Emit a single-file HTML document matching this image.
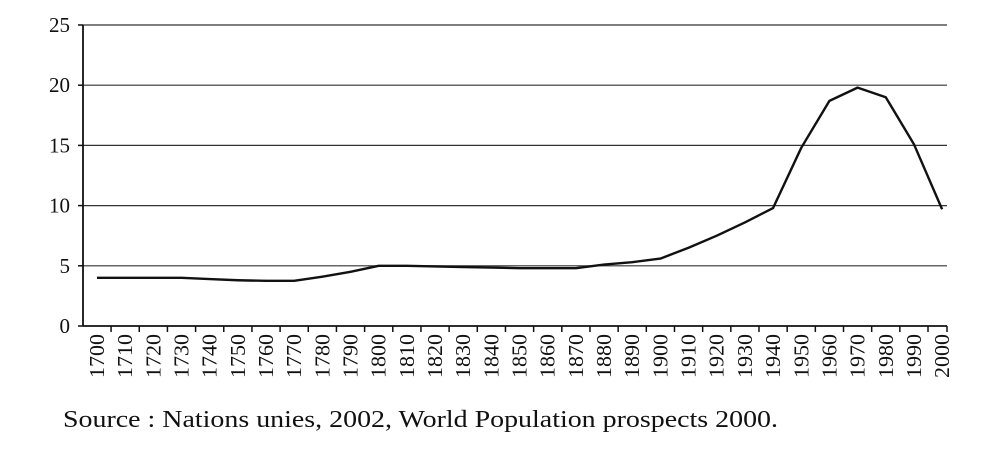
<!DOCTYPE html>
<html><head><meta charset="utf-8"><style>
body{margin:0;background:#fff;width:999px;height:460px;overflow:hidden}
svg{display:block}
text{font-family:"Liberation Serif",serif;fill:#111}
</style></head><body>
<svg width="999" height="460" id="c"></svg>
<script>
const categories=[1700,1710,1720,1730,1740,1750,1760,1770,1780,1790,1800,1810,1820,1830,1840,1850,1860,1870,1880,1890,1900,1910,1920,1930,1940,1950,1960,1970,1980,1990,2000];
const values=[4.0,4.0,4.0,4.0,3.9,3.8,3.75,3.75,4.1,4.5,5.0,5.0,4.95,4.9,4.85,4.8,4.8,4.8,5.1,5.3,5.6,6.5,7.5,8.6,9.8,14.8,18.7,19.8,19.0,15.1,9.7];
const yTicks=[0,5,10,15,20,25];
const svg=document.getElementById('c');
const NS='http://www.w3.org/2000/svg';
const L=83,R=947,Y0=326,PX=12.04,X0=97,DX=28.17;
const y=v=>Y0-v*PX;
const x=i=>X0+i*DX;
function mk(t,a){const e=document.createElementNS(NS,t);for(const k in a)e.setAttribute(k,a[k]);svg.appendChild(e);return e;}
yTicks.forEach(v=>{
  if(v>0){const g=mk('line',{x1:L,x2:R,y1:y(v),y2:y(v),stroke:'#333','stroke-width':1.2});
  
  }
  const t=mk('text',{x:70,y:y(v)+7,'text-anchor':'end','font-size':21});
  t.textContent=v;
  
  
  const tk=mk('line',{x1:L-5,x2:L,y1:y(v),y2:y(v),stroke:'#111','stroke-width':1.5});
  
  
});
const ya=mk('line',{x1:L,x2:L,y1:y(25),y2:Y0,stroke:'#111','stroke-width':1.8});


const xa=mk('line',{x1:L,x2:R,y1:Y0,y2:Y0,stroke:'#111','stroke-width':1.8});


categories.forEach((c,i)=>{
  const bx=x(i)-DX/2;
  if(i>0){const tk=mk('line',{x1:bx,x2:bx,y1:Y0,y2:Y0+6,stroke:'#111','stroke-width':1.5});
  
  }
  const t=mk('text',{x:0,y:0,'font-size':21,'text-anchor':'end',textLength:44,lengthAdjust:'spacingAndGlyphs',transform:`translate(${x(i)+7},${Y0+8}) rotate(-90)`});
  t.textContent=c;
  
  
});
const tk=mk('line',{x1:R,x2:R,y1:Y0,y2:Y0+6,stroke:'#111','stroke-width':1.5});


const p=mk('polyline',{points:values.map((v,i)=>x(i)+','+y(v)).join(' '),fill:'none',stroke:'#111','stroke-width':2.4,'stroke-linejoin':'round'});


const s=mk('text',{x:63,y:427,'font-size':24,textLength:715,lengthAdjust:'spacingAndGlyphs'});
s.textContent='Source : Nations unies, 2002, World Population prospects 2000.';


</script>
</body></html>
